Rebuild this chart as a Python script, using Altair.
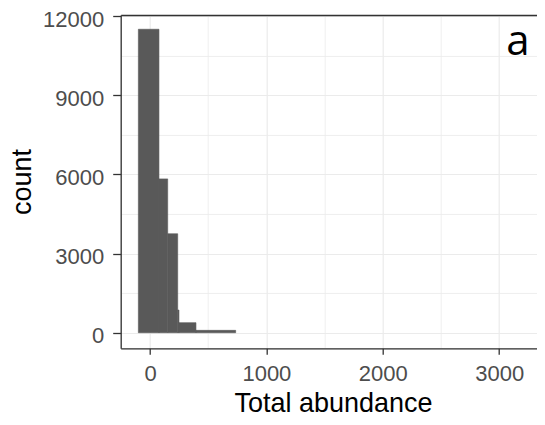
import altair as alt
import pandas as pd

# Histogram bins
bin_start = [-100, 77, 152, 238, 249, 395]
bin_end = [77, 152, 238, 249, 395, 736]
counts = [11500, 5830, 3750, 860, 380, 90]

x_major = [0, 1000, 2000, 3000]
x_minor = [500, 1500, 2500]
y_major = [0, 3000, 6000, 9000, 12000]
y_minor = [1500, 4500, 7500, 10500]
panel_label = ["a"]

df = pd.DataFrame({"start": bin_start, "end": bin_end, "count": counts})
lab = pd.DataFrame({"label": panel_label})

FONT = "Liberation Sans"
xscale = alt.Scale(domain=[-251.7, 3325], nice=False, zero=False)
yscale = alt.Scale(domain=[-590, 12040], nice=False, zero=False)

base = alt.Chart(df)

bars = base.mark_rect(color="#595959", stroke="#595959", strokeWidth=0.6).encode(
    x=alt.X("start:Q", scale=xscale, axis=alt.Axis(
        values=x_major, format="d", grid=True, gridColor="#EBEBEB", gridWidth=1.2,
        domain=True, domainColor="#333333", domainWidth=1.3,
        ticks=True, tickColor="#333333", tickWidth=1.3, tickSize=6,
        labelFont=FONT, labelFontSize=22, labelColor="#4D4D4D", labelPadding=9,
        labelFlush=False, labelOverlap=False,
        title="Total abundance", titleFont=FONT, titleFontSize=27,
        titleFontWeight="normal", titleColor="black",
        titleX=212.3, titleY=63.4, titleBaseline="alphabetic", titleAlign="center")),
    x2="end:Q",
    y=alt.Y("count:Q", scale=yscale, axis=alt.Axis(
        values=y_major, format="d", grid=True, gridColor="#EBEBEB", gridWidth=1.2,
        domain=True, domainColor="#333333", domainWidth=1.3,
        ticks=True, tickColor="#333333", tickWidth=1.3, tickSize=8,
        labelFont=FONT, labelFontSize=22, labelColor="#4D4D4D", labelPadding=9,
        labelFlush=False, labelOverlap=False, labelOffset=3,
        title="count", titleFont=FONT, titleFontSize=27,
        titleFontWeight="normal", titleColor="black",
        titleX=-90.4, titleY=166.5, titleBaseline="alphabetic", titleAlign="center",
        titleAngle=270)),
    y2=alt.datum(0),
)

minor = base.mark_rect(opacity=0).encode(
    x=alt.X("start:Q", scale=xscale, axis=alt.Axis(
        orient="top", values=x_minor, grid=True, gridColor="#EBEBEB", gridWidth=0.8,
        domain=True, domainColor="#333333", domainWidth=1.3,
        ticks=False, labels=False, title=None)),
    x2="end:Q",
    y=alt.Y("count:Q", scale=yscale, axis=alt.Axis(
        orient="right", values=y_minor, grid=True, gridColor="#EBEBEB", gridWidth=0.8,
        domain=False, ticks=False, labels=False, title=None)),
    y2=alt.datum(0),
)

label = alt.Chart(lab).mark_text(
    font="Open Sans", fontSize=42, color="black", align="center", baseline="alphabetic"
).encode(text="label:N", x=alt.value(397.3), y=alt.value(40))

chart = alt.layer(bars, minor, label).resolve_axis(x="independent", y="independent").properties(
    width=416.3, height=333.3,
    padding={"left": 112.7, "top": 7, "right": 0, "bottom": 69},
    autosize=alt.AutoSizeParams(type="none"),
).configure_view(stroke=None).configure(background="white")

chart.save("out.html", embed_options={"renderer": "svg", "actions": False})
